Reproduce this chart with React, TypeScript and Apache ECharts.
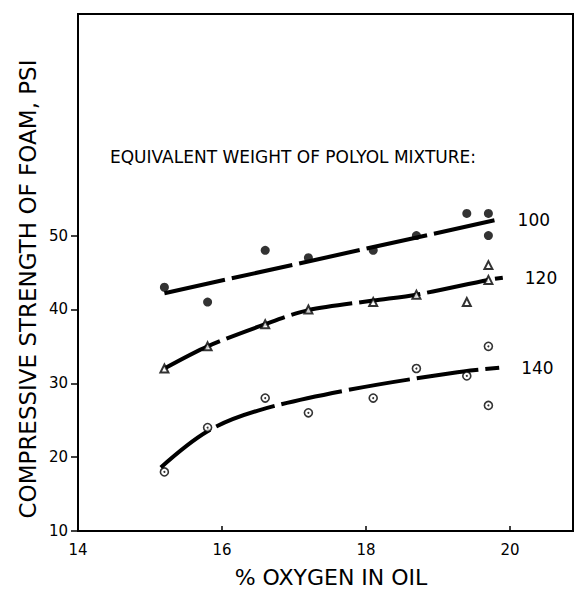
import React, { useEffect, useRef } from "react";
import * as echarts from "echarts";

const seriesNames = ["100", "120", "140"];
const xPoints = [15.2, 15.8, 16.6, 17.2, 18.1, 18.7, 19.4, 19.7, 19.7];
const y100 = [43, 41, 48, 47, 48, 50, 53, 53, 50];
const y120 = [32, 35, 38, 40, 41, 42, 41, 44, 46];
const y140 = [18, 24, 28, 26, 28, 32, 31, 35, 27];

const fit100X = [15.2, 19.8];
const fit100Y = [42.2, 52.1];
const fit120X = [15.2, 15.8, 16.6, 17.2, 18.1, 18.7, 19.7, 19.9];
const fit120Y = [32, 35, 38, 39.9, 41.2, 42, 44, 44.3];
const fit140X = [15.15, 15.8, 16.5, 17.7, 19.2, 19.85];
const fit140Y = [18.6, 23.5, 26.3, 29.0, 31.4, 32.1];

const xTicks = [14, 16, 18, 20];
const yTicks = [10, 20, 30, 40, 50];

const FONT = "DejaVu Sans";

const pairs = (xs: number[], ys: number[]) => xs.map((x, i) => [x, ys[i]]);

export default function App() {
  const ref = useRef<HTMLDivElement>(null);
  useEffect(() => {
    document.body.style.margin = "0";
    const chart = echarts.init(ref.current!, null, { renderer: "svg" });
    const fitStyle = { color: "#000", width: 4, type: [62, 7] as any };
    const endLabel = (name: string) => ({
      show: true,
      formatter: name,
      distance: 22,
      fontFamily: FONT,
      fontSize: 17,
      color: "#000",
    });
    chart.setOption({
      animation: false,
      backgroundColor: "#fff",
      grid: {
        left: 78,
        top: 14,
        right: 3,
        bottom: 58,
        show: true,
        borderColor: "#000",
        borderWidth: 2,
      },
      xAxis: {
        type: "value",
        min: 14,
        max: 20.875,
        interval: 2,
        splitLine: { show: false },
        axisLine: { lineStyle: { color: "#000", width: 2 } },
        axisTick: { inside: true, length: 5, customValues: xTicks, lineStyle: { color: "#000", width: 1.5 } },
        axisLabel: { customValues: xTicks, margin: 11, fontFamily: FONT, fontSize: 15, color: "#000" },
      },
      yAxis: {
        type: "value",
        min: 10,
        max: 80,
        interval: 10,
        splitLine: { show: false },
        axisLine: { lineStyle: { color: "#000", width: 2 } },
        axisTick: { inside: false, length: 7, customValues: yTicks, lineStyle: { color: "#000", width: 1.5 } },
        axisLabel: { customValues: yTicks, margin: 10, fontFamily: FONT, fontSize: 15, color: "#000" },
      },
      graphic: [
        {
          type: "text",
          x: 110,
          y: 157,
          style: {
            text: "EQUIVALENT WEIGHT OF POLYOL MIXTURE:",
            fontFamily: FONT,
            fontSize: 17,
            fill: "#000",
            verticalAlign: "middle",
          },
        },
        {
          type: "text",
          x: 28,
          y: 289,
          rotation: Math.PI / 2,
          style: {
            text: "COMPRESSIVE STRENGTH OF FOAM, PSI",
            fontFamily: FONT,
            fontSize: 23,
            fill: "#000",
            align: "center",
            verticalAlign: "middle",
          },
        },
        {
          type: "text",
          x: 331,
          y: 577,
          style: {
            text: "% OXYGEN IN OIL",
            fontFamily: FONT,
            fontSize: 22,
            fill: "#000",
            align: "center",
            verticalAlign: "middle",
          },
        },
      ],
      series: [
        {
          type: "line",
          name: seriesNames[0] + " fit",
          data: pairs(fit100X, fit100Y),
          symbol: "none",
          lineStyle: fitStyle,
          endLabel: endLabel(seriesNames[0]),
          z: 2,
        },
        {
          type: "line",
          name: seriesNames[1] + " fit",
          data: pairs(fit120X, fit120Y),
          symbol: "none",
          smooth: 0.3,
          lineStyle: fitStyle,
          endLabel: endLabel(seriesNames[1]),
          z: 2,
        },
        {
          type: "line",
          name: seriesNames[2] + " fit",
          data: pairs(fit140X, fit140Y),
          symbol: "none",
          smooth: 0.35,
          lineStyle: fitStyle,
          endLabel: endLabel(seriesNames[2]),
          z: 2,
        },
        {
          type: "scatter",
          name: seriesNames[0],
          data: pairs(xPoints, y100),
          symbol: "circle",
          symbolSize: 9,
          itemStyle: { color: "#000" },
          z: 5,
        },
        {
          type: "scatter",
          name: seriesNames[1],
          data: pairs(xPoints, y120),
          symbol: "triangle",
          symbolSize: 8,
          itemStyle: { color: "#fff", borderColor: "#000", borderWidth: 2 },
          z: 5,
        },
        {
          type: "scatter",
          name: seriesNames[2],
          data: pairs(xPoints, y140),
          symbol: "circle",
          symbolSize: 8,
          itemStyle: { color: "#fff", borderColor: "#000", borderWidth: 1.6 },
          z: 5,
        },
        {
          type: "scatter",
          name: seriesNames[2] + " dot",
          data: pairs(xPoints, y140),
          symbol: "circle",
          symbolSize: 2,
          itemStyle: { color: "#000" },
          z: 6,
        },
      ],
    });
    return () => chart.dispose();
  }, []);
  return <div ref={ref} style={{ width: 576, height: 589 }} />;
}
